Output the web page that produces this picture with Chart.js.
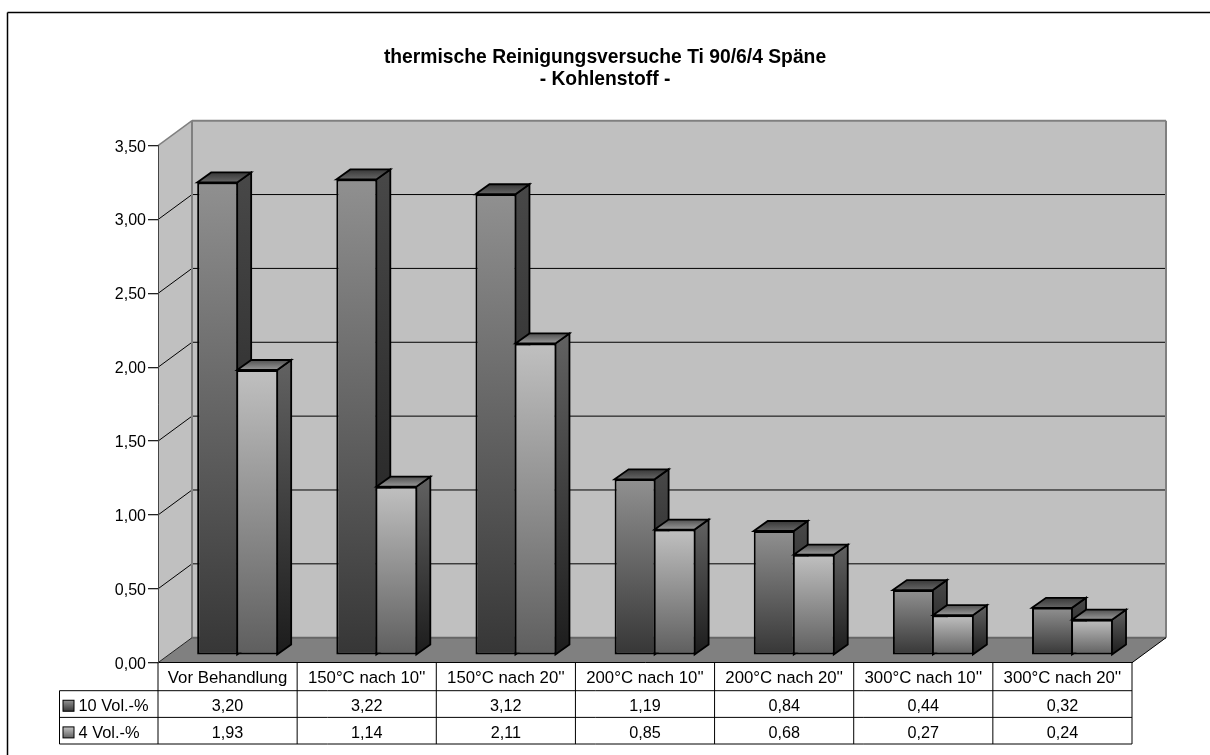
<!DOCTYPE html>
<html>
<head>
<meta charset="utf-8">
<title>thermische Reinigungsversuche</title>
<script src="https://cdn.jsdelivr.net/npm/chart.js@4"></script>
<style>
  html, body { margin: 0; padding: 0; background: #fff; }
  #wrap { width: 1210px; height: 755px; }
</style>
</head>
<body>
<div id="wrap"><canvas id="myChart" width="1210" height="755"></canvas></div>
<script>
const titleLines = ['thermische Reinigungsversuche Ti 90/6/4 Späne', '- Kohlenstoff -'];
const categories = ['Vor Behandlung', '150°C nach 10\'\'', '150°C nach 20\'\'', '200°C nach 10\'\'', '200°C nach 20\'\'', '300°C nach 10\'\'', '300°C nach 20\'\''];
const seriesNames = ['10 Vol.-%', '4 Vol.-%'];
const tenVol = [3.20, 3.22, 3.12, 1.19, 0.84, 0.44, 0.32];
const fourVol = [1.93, 1.14, 2.11, 0.85, 0.68, 0.27, 0.24];

const fontName = '"Liberation Sans", Arial, sans-serif';
const wallDepth = { x: 34, y: -25 };
const barShift = { x: 9.6, y: -7.6 };
const barDepth = { x: 14, y: -10 };
const rowLines = [690.7, 717.4, 744];
const tableLeft = 59.5;

// front, side and top colours for each series, top of the bar first
const shades = [
  { front: ['#909090', '#363636'], side: ['#484848', '#1c1c1c'], top: ['#383838', '#666666'] },
  { front: ['#c0c0c0', '#5e5e5e'], side: ['#626262', '#1c1c1c'], top: ['#505050', '#999999'] }
];

function fmt(v) {
  return v.toFixed(2).replace('.', ',');
}

function vGradient(ctx, y1, y2, colors) {
  let g = ctx.createLinearGradient(0, y1, 0, y2);
  g.addColorStop(0, colors[0]);
  g.addColorStop(1, colors[1]);
  return g;
}

function poly(ctx, pts, fill, stroke, lw) {
  ctx.beginPath();
  ctx.moveTo(pts[0][0], pts[0][1]);
  for (let i = 1; i < pts.length; i++) {
    ctx.lineTo(pts[i][0], pts[i][1]);
  }
  ctx.closePath();
  if (fill) {
    ctx.fillStyle = fill;
    ctx.fill();
  }
  if (stroke) {
    ctx.strokeStyle = stroke;
    ctx.lineWidth = lw;
    ctx.stroke();
  }
}

function line(ctx, x1, y1, x2, y2, color, lw) {
  ctx.beginPath();
  ctx.moveTo(x1, y1);
  ctx.lineTo(x2, y2);
  ctx.strokeStyle = color;
  ctx.lineWidth = lw;
  ctx.stroke();
}

// walls and floor sit behind the axes
const wallsPlugin = {
  id: 'walls',
  beforeDraw(chart) {
    let ctx = chart.ctx;
    let a = chart.chartArea;
    let dx = wallDepth.x, dy = wallDepth.y;
    ctx.save();

    // frame, open on the right and at the bottom like the original
    line(ctx, 7.5, 12.5, 1210, 12.5, '#000', 1.5);
    line(ctx, 7.5, 12.5, 7.5, 755, '#000', 1.5);

    poly(ctx, [[a.left + dx, a.top + dy], [a.right + dx, a.top + dy], [a.right + dx, a.bottom + dy], [a.left + dx, a.bottom + dy]], '#c0c0c0');
    poly(ctx, [[a.left, a.top], [a.left + dx, a.top + dy], [a.left + dx, a.bottom + dy], [a.left, a.bottom]], '#c0c0c0');
    poly(ctx, [[a.left, a.bottom], [a.left + dx, a.bottom + dy], [a.right + dx, a.bottom + dy], [a.right, a.bottom]], '#808080');

    let y = chart.scales.y;
    y.ticks.forEach(function (t) {
      if (t.value === y.min || t.value === y.max) { return; }
      let py = y.getPixelForValue(t.value);
      line(ctx, a.left, py, a.left + dx, py + dy, '#000', 1);
      line(ctx, a.left + dx, py + dy, a.right + dx, py + dy, '#000', 1);
    });

    // grey wall edges
    line(ctx, a.left, a.top, a.left + dx, a.top + dy, '#808080', 1.5);
    line(ctx, a.left + dx, a.top + dy, a.right + dx, a.top + dy, '#808080', 2);
    line(ctx, a.left + dx, a.top + dy, a.left + dx, a.bottom + dy, '#808080', 2);
    line(ctx, a.right + dx, a.top + dy, a.right + dx, a.bottom + dy, '#808080', 2);
    line(ctx, a.left + dx, a.bottom + dy, a.right + dx, a.bottom + dy, '#666666', 2);
    line(ctx, a.left, a.bottom, a.left + dx, a.bottom + dy, '#222', 1);
    line(ctx, a.right, a.bottom, a.right + dx, a.bottom + dy, '#000', 1);
    ctx.restore();
  }
};

// bars are pushed back onto the floor and drawn left series first,
// so the right bar of each pair covers the side face of the left one
const barFacesPlugin = {
  id: 'barFaces',
  beforeDatasetDraw() {
    return false;
  },
  afterDatasetsDraw(chart) {
    let ctx = chart.ctx;
    ctx.save();
    ctx.translate(barShift.x, barShift.y);
    chart.data.datasets.forEach(function (ds, index) {
      let meta = chart.getDatasetMeta(index);
      let s = shades[index];
      meta.data.forEach(function (bar) {
        let left = bar.x - bar.width / 2;
        let right = bar.x + bar.width / 2;
        let dx = barDepth.x, dy = barDepth.y;
        poly(ctx, [[right, bar.y], [right + dx, bar.y + dy], [right + dx, bar.base + dy], [right, bar.base]],
          vGradient(ctx, bar.y + dy, bar.base, s.side), '#000', 1.8);
        poly(ctx, [[left, bar.y], [left + dx, bar.y + dy], [right + dx, bar.y + dy], [right, bar.y]],
          vGradient(ctx, bar.y + dy, bar.y, s.top), '#000', 1.8);
      });
      meta.controller.draw();
    });
    ctx.restore();
  }
};

// data table under the axis
const tablePlugin = {
  id: 'dataTable',
  afterDraw(chart) {
    let ctx = chart.ctx;
    let x = chart.scales.x;
    let a = chart.chartArea;
    let rows = [tenVol, fourVol];
    let cellW = x.width / categories.length;
    ctx.save();

    rowLines.forEach(function (py) {
      line(ctx, tableLeft, py, x.right, py, '#000', 1);
    });
    line(ctx, tableLeft, rowLines[0], tableLeft, rowLines[2], '#000', 1);
    for (let i = 0; i <= categories.length; i++) {
      line(ctx, x.left + i * cellW, a.bottom, x.left + i * cellW, rowLines[2], '#000', 1);
    }

    ctx.textBaseline = 'middle';
    rows.forEach(function (values, r) {
      let top = rowLines[r], bottom = rowLines[r + 1];
      let mid = (top + bottom) / 2 + 2.5;

      ctx.textAlign = 'left';
      ctx.fillStyle = '#000';
      ctx.font = '16.4px ' + fontName;
      ctx.fillText(seriesNames[r], 78.5, mid);

      ctx.textAlign = 'center';
      ctx.font = '16.2px ' + fontName;
      values.forEach(function (v, i) {
        ctx.fillStyle = '#000';
        ctx.fillText(fmt(v), x.getPixelForValue(i), mid);
      });

      // legend key
      ctx.fillStyle = vGradient(ctx, mid - 6, mid + 5, shades[r].front);
      ctx.fillRect(63, mid - 6.3, 11, 11);
      ctx.strokeStyle = '#000';
      ctx.lineWidth = 1;
      ctx.strokeRect(63, mid - 6.3, 11, 11);
    });
    ctx.restore();
  }
};

function frontGradient(seriesIndex, values) {
  return function (context) {
    let chart = context.chart;
    let y = chart.scales.y;
    if (!chart.chartArea || context.dataIndex === undefined) { return shades[seriesIndex].front[0]; }
    return vGradient(chart.ctx, y.getPixelForValue(values[context.dataIndex]), y.getPixelForValue(0), shades[seriesIndex].front);
  };
}

let myChart = new Chart(document.getElementById('myChart'), {
  type: 'bar',
  data: {
    labels: categories,
    datasets: [{
      label: seriesNames[0],
      data: tenVol,
      backgroundColor: frontGradient(0, tenVol),
      borderColor: '#000',
      borderWidth: { top: 2, left: 2, bottom: 2, right: 1 },
      borderSkipped: false
    }, {
      label: seriesNames[1],
      data: fourVol,
      backgroundColor: frontGradient(1, fourVol),
      borderColor: '#000',
      borderWidth: { top: 2, left: 1, bottom: 2, right: 1 },
      borderSkipped: false
    }]
  },
  options: {
    responsive: false,
    animation: false,
    layout: { padding: { left: 78, right: 78, top: 0, bottom: 0 } },
    categoryPercentage: 0.575,
    barPercentage: 1,
    plugins: {
      legend: { display: false },
      tooltip: { enabled: false },
      title: {
        display: true,
        text: titleLines,
        color: '#000',
        font: { family: fontName, size: 19.3, weight: 'bold', lineHeight: 1.14 },
        padding: { top: 46.5, bottom: 55.2 }
      }
    },
    scales: {
      x: {
        grid: { display: false },
        border: { color: '#000', width: 1 },
        ticks: { color: '#000', font: { family: fontName, size: 16.8 }, maxRotation: 0, autoSkip: false, padding: -2 },
        afterFit(scale) { scale.height = 92.3; }
      },
      y: {
        min: 0,
        max: 3.5,
        grid: { drawOnChartArea: false, drawTicks: true, tickLength: 10, color: '#222', lineWidth: 1.3 },
        border: { color: '#444', width: 1 },
        ticks: {
          stepSize: 0.5,
          color: '#000',
          padding: 2,
          labelOffset: 1.5,
          font: { family: fontName, size: 16 },
          callback: function (v) { return fmt(v); }
        },
        afterFit(scale) { scale.width = 80; }
      }
    }
  },
  plugins: [wallsPlugin, barFacesPlugin, tablePlugin]
});
</script>
</body>
</html>
